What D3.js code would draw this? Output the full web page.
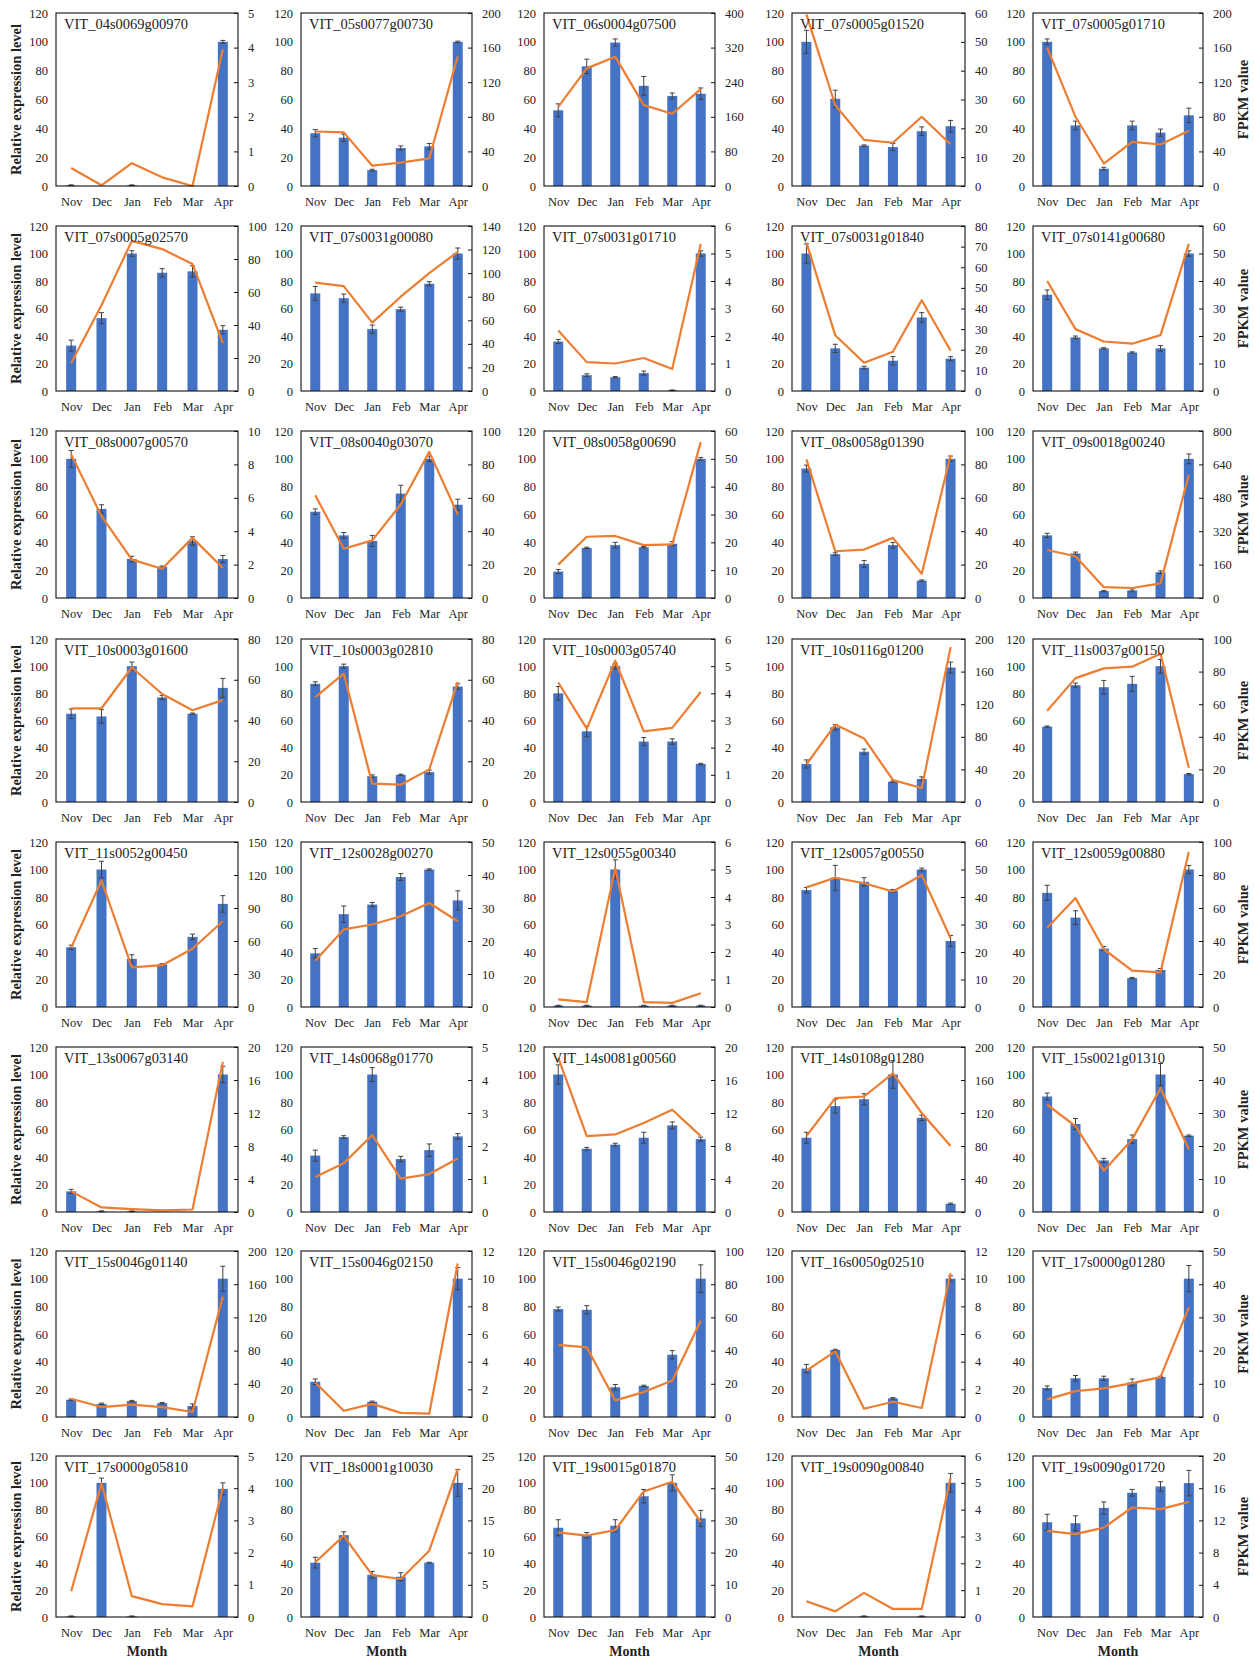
<!DOCTYPE html>
<html>
<head>
<meta charset="utf-8">
<script src="https://cdn.jsdelivr.net/npm/d3@7"></script>
<style>
  html, body { margin: 0; padding: 0; background: #fff; }
  svg { display: block; }
  text { font-family: "Liberation Serif", "Times New Roman", serif; fill: #222; }
</style>
</head>
<body>
<svg id="chart" width="1255" height="1658"></svg>
<script>
// Sampling months (x categories)
const months = ["Nov", "Dec", "Jan", "Feb", "Mar", "Apr"];

// Gene IDs, one per small panel (row by row)
const genes = [
  "VIT_04s0069g00970", "VIT_05s0077g00730", "VIT_06s0004g07500", "VIT_07s0005g01520", "VIT_07s0005g01710",
  "VIT_07s0005g02570", "VIT_07s0031g00080", "VIT_07s0031g01710", "VIT_07s0031g01840", "VIT_07s0141g00680",
  "VIT_08s0007g00570", "VIT_08s0040g03070", "VIT_08s0058g00690", "VIT_08s0058g01390", "VIT_09s0018g00240",
  "VIT_10s0003g01600", "VIT_10s0003g02810", "VIT_10s0003g05740", "VIT_10s0116g01200", "VIT_11s0037g00150",
  "VIT_11s0052g00450", "VIT_12s0028g00270", "VIT_12s0055g00340", "VIT_12s0057g00550", "VIT_12s0059g00880",
  "VIT_13s0067g03140", "VIT_14s0068g01770", "VIT_14s0081g00560", "VIT_14s0108g01280", "VIT_15s0021g01310",
  "VIT_15s0046g01140", "VIT_15s0046g02150", "VIT_15s0046g02190", "VIT_16s0050g02510", "VIT_17s0000g01280",
  "VIT_17s0000g05810", "VIT_18s0001g10030", "VIT_19s0015g01870", "VIT_19s0090g00840", "VIT_19s0090g01720"
];

// Relative expression level (qRT-PCR, bars), per gene
const relExpr = [
  [0.5, 0, 0.5, 0, 0, 100], [36.6, 33.5, 11, 26.3, 27.5, 100], [52.5, 83, 99.5, 69.5, 62.5, 64], [100, 60.5, 28, 27, 38, 41.5], [100, 42, 12, 42, 37, 49],
  [33, 53, 100, 86, 87, 44.5], [71, 67.5, 45, 59.5, 78, 100], [36, 11.5, 10, 13, 0.5, 100], [100, 31, 17, 22, 53.5, 23.5], [70, 39, 31, 28, 31, 100],
  [100, 64, 28, 22.5, 41, 28], [62, 45, 41, 75, 100, 67], [19, 36, 38, 36.5, 39, 100], [93, 31.5, 24.5, 38, 12.5, 100], [45, 32, 5, 5.5, 18.5, 100],
  [65, 63, 100, 77, 65, 84], [87, 100, 19, 20, 22, 85], [80, 52, 100, 44.5, 44.5, 28], [28, 55, 37, 15, 17, 99], [55.5, 86, 84.5, 87, 100, 20.5],
  [43.5, 100, 35, 31, 51, 75], [39, 67.5, 74.5, 94.5, 100, 77.5], [1, 1, 100, 1, 1, 1], [85, 94, 91, 84.5, 100, 48], [83, 65, 42.5, 21, 27, 100],
  [15, 0.5, 0.5, 0, 0, 100], [41, 54.5, 100, 38.5, 45, 55], [100, 46, 49, 54, 63, 53], [54, 77, 82, 100, 68.5, 6], [84, 64, 37.5, 53, 100, 55.5],
  [12.5, 9.5, 11.5, 10, 8, 100], [25.5, 0, 11, 0, 0, 100], [78, 77.5, 21.5, 22.5, 45, 100], [35, 48.5, 0, 13.5, 0, 100], [21, 28, 28, 25, 29, 100],
  [0.5, 100, 0.5, 0, 0, 95.5], [40.5, 61, 31.5, 30, 40.5, 100], [66.5, 61, 68, 90, 100, 73.5], [0, 0, 0.5, 0, 0.5, 100], [70.6, 69.9, 81.3, 92.6, 97.3, 99.8]
];

// Standard error of the relative expression level
const relErr = [
  [0.3, 0, 0.3, 0, 0, 1], [2.5, 2.5, 0.6, 1.5, 2, 0.5], [4.5, 5, 2.5, 6.5, 2, 4], [8, 6, 0.5, 2.5, 3, 4], [2, 3, 1, 3, 2.5, 5],
  [4, 4, 2, 3, 4, 3], [5, 3, 3, 1.5, 1.5, 4], [1.5, 1, 0.5, 1.5, 0.3, 2], [7, 3, 1, 3, 3.5, 1.5], [3.5, 1, 0.5, 0.5, 2, 2],
  [6, 3, 2, 0.5, 3, 2.5], [2, 2, 4, 6, 2, 4], [1.5, 0.5, 2, 0.5, 1.5, 1], [2.5, 1, 2.5, 2, 0.5, 2], [1.5, 1, 0.5, 1, 1, 3.5],
  [3.5, 5, 3, 1.5, 0.5, 7], [1.5, 1.5, 1, 0.5, 1.5, 2], [5, 4, 2, 3, 2, 0.5], [3, 2, 2, 0.5, 1.5, 4], [0.5, 1.5, 5, 5.5, 5, 0.5],
  [1.5, 6, 3, 0.5, 2, 6], [3.5, 6, 1.5, 2.5, 0.5, 7], [0.3, 0.3, 7, 0.3, 0.3, 0.3], [2, 9, 3, 1, 1, 4], [5.5, 5, 1.5, 0.5, 1, 3],
  [1.5, 0.3, 0.3, 0, 0, 6], [4, 1, 5, 2, 4.5, 2], [7, 1, 1, 4, 2.5, 1.5], [4, 5, 4, 10, 2, 0.5], [2.5, 4, 1.5, 3, 8, 0.5],
  [0.5, 0.5, 0.5, 0.5, 1.5, 9], [2, 0, 0.5, 0, 0, 8], [1.5, 3, 2, 0.5, 3, 10], [3, 0.5, 0, 0.5, 0, 2], [1.5, 2, 1.5, 2.5, 0.5, 9.5],
  [0.3, 3.5, 0.3, 0, 0, 4.5], [4, 2.5, 2.5, 3, 0.3, 10], [6, 2, 4.5, 5, 6, 6], [0, 0, 0.3, 0, 0.3, 7], [6, 5.5, 4.5, 2.5, 3.5, 9.5]
];

// FPKM values from RNA-seq (line, right axis)
const fpkm = [
  [0.52, 0.02, 0.66, 0.25, 0, 3.95], [63, 62, 23.5, 27, 32, 150], [183, 272, 299, 187, 167, 224], [59.5, 28, 16, 15, 24, 14.5], [160, 80, 26, 51, 48, 64],
  [17, 52, 91, 86, 77, 29], [92, 89, 58, 80, 100, 118], [2.2, 1.05, 1.0, 1.2, 0.8, 5.35], [72, 27, 13.7, 19, 44, 19.5], [40, 22.5, 18, 17.2, 20.3, 53.5],
  [8.6, 4.9, 2.3, 1.75, 3.6, 1.8], [61.5, 29.5, 34.5, 56, 87.5, 50], [12, 22, 22.3, 19, 19.3, 56], [83, 28, 29, 36, 14.5, 85.5], [230, 200, 52, 48, 70, 590],
  [46, 46, 66, 53, 45, 50], [51.5, 63, 9, 8.5, 16, 59], [4.4, 2.7, 5.2, 2.6, 2.73, 4.05], [46, 95, 78, 27, 17, 190], [56, 76, 82, 83, 91, 21],
  [54, 115, 36, 38, 53, 78], [14, 23.5, 25, 27.5, 31.5, 26], [0.28, 0.18, 5.05, 0.18, 0.15, 0.5], [43.5, 47, 45, 42, 48, 25], [48, 66, 35, 22, 21, 94],
  [2.5, 0.55, 0.35, 0.2, 0.3, 18.2], [1.06, 1.48, 2.33, 1.01, 1.15, 1.62], [18.7, 9.2, 9.4, 10.8, 12.4, 9.2], [92, 138, 140, 168, 120, 80], [32.5, 26, 12.5, 22, 37.5, 19],
  [22, 12, 15, 12, 6, 145], [2.5, 0.45, 0.95, 0.3, 0.25, 11.1], [43.5, 42, 10, 15, 22, 58], [3.35, 4.75, 0.6, 1.1, 0.65, 10.4], [5.3, 7.8, 8.6, 10.2, 12, 33],
  [0.8, 4.15, 0.65, 0.4, 0.33, 4.0], [8.5, 12.6, 6.5, 5.9, 10.3, 23], [26.3, 25.3, 27, 39, 42, 29.5], [0.59, 0.21, 0.9, 0.3, 0.3, 5.19], [10.7, 10.3, 11.1, 13.6, 13.4, 14.3]
];

// Right-axis (FPKM) maximum and tick step for each panel
const fpkmMax = [
  5, 200, 400, 60, 200,
  100, 140, 6, 80, 60,
  10, 100, 60, 100, 800,
  80, 80, 6, 200, 100,
  150, 50, 6, 60, 100,
  20, 5, 20, 200, 50,
  200, 12, 100, 12, 50,
  5, 25, 50, 6, 20
];
const fpkmStep = [
  1, 40, 80, 10, 40,
  20, 20, 1, 10, 10,
  2, 20, 10, 20, 160,
  20, 20, 1, 40, 20,
  30, 10, 1, 10, 20,
  4, 1, 4, 40, 10,
  40, 2, 20, 2, 10,
  1, 5, 10, 1, 4
];

// Left-axis ticks (relative expression level)
const relTicks = [0, 20, 40, 60, 80, 100, 120];

// ---- layout: plot frames for the 5 columns and 8 rows ----
const colX = [[56, 238], [301, 472], [544, 715], [792, 965], [1033, 1203]];
const rowY = [[13, 186], [226, 391], [431, 598], [639, 802], [842, 1007], [1047, 1212], [1251, 1417], [1456, 1617]];

const BAR = "#4472C4", LINE = "#ED7D31", ERR = "#404040";
const TICK_FONT = 12.5;
const svg = d3.select("#chart");

genes.forEach((gene, i) => {
  const r = Math.floor(i / 5), c = i % 5;
  const [x0, x1] = colX[c];
  const [y0, y1] = rowY[r];

  const x = d3.scalePoint().domain(months).range([x0, x1]).padding(0.5);
  const yL = d3.scaleLinear().domain([0, 120]).range([y1, y0]);
  const yR = d3.scaleLinear().domain([0, fpkmMax[i]]).range([y1, y0]);

  const g = svg.append("g").attr("class", "panel");
  const rows = months.map((m, k) => ({ m, v: relExpr[i][k], e: relErr[i][k], f: fpkm[i][k] }));

  // bars
  const bw = 10;
  g.selectAll("rect.bar").data(rows.filter(d => d.v > 0)).join("rect")
    .attr("class", "bar")
    .attr("x", d => x(d.m) - bw / 2)
    .attr("width", bw)
    .attr("y", d => yL(d.v))
    .attr("height", d => yL(0) - yL(d.v))
    .attr("fill", BAR);

  // error bars
  const eb = g.selectAll("g.err").data(rows.filter(d => d.e > 0)).join("g").attr("class", "err")
    .attr("stroke", ERR).attr("stroke-width", 1);
  eb.append("line")
    .attr("x1", d => x(d.m)).attr("x2", d => x(d.m))
    .attr("y1", d => yL(Math.max(0, d.v - d.e))).attr("y2", d => yL(d.v + d.e));
  eb.append("line")
    .attr("x1", d => x(d.m) - 2.5).attr("x2", d => x(d.m) + 2.5)
    .attr("y1", d => yL(d.v + d.e)).attr("y2", d => yL(d.v + d.e));
  eb.append("line")
    .attr("x1", d => x(d.m) - 2.5).attr("x2", d => x(d.m) + 2.5)
    .attr("y1", d => yL(Math.max(0, d.v - d.e))).attr("y2", d => yL(Math.max(0, d.v - d.e)));

  // FPKM line
  g.append("path").datum(rows)
    .attr("fill", "none").attr("stroke", LINE).attr("stroke-width", 2.2)
    .attr("stroke-linejoin", "round")
    .attr("d", d3.line().x(d => x(d.m)).y(d => yR(d.f)));

  // frame
  g.append("rect")
    .attr("x", x0).attr("y", y0).attr("width", x1 - x0).attr("height", y1 - y0)
    .attr("fill", "none").attr("stroke", "#111").attr("stroke-width", 1.1);

  // left axis labels
  const la = g.append("g").attr("transform", `translate(${x0},0)`)
    .call(d3.axisLeft(yL).tickValues(relTicks).tickSize(0).tickPadding(8));
  la.select(".domain").remove();

  // right axis with inward ticks
  const rTicks = d3.range(0, fpkmMax[i] + fpkmStep[i] / 2, fpkmStep[i]);
  const ra = g.append("g").attr("transform", `translate(${x1},0)`)
    .call(d3.axisRight(yR).tickValues(rTicks).tickSize(-4).tickPadding(10).tickFormat(d3.format("d")));
  ra.select(".domain").remove();
  ra.selectAll(".tick line").attr("stroke", "#111");

  // month labels
  const ba = g.append("g").attr("transform", `translate(0,${y1})`)
    .call(d3.axisBottom(x).tickSize(0).tickPadding(11));
  ba.select(".domain").remove();

  g.selectAll(".tick text").attr("font-family", "Liberation Serif").attr("font-size", TICK_FONT).attr("fill", "#222");

  // gene name
  g.append("text").attr("x", x0 + 8).attr("y", y0 + 16)
    .attr("font-size", 14.5).text(gene);

  // axis titles
  if (c === 0) {
    g.append("text")
      .attr("transform", `translate(16,${(y0 + y1) / 2}) rotate(-90)`)
      .attr("text-anchor", "middle").attr("dominant-baseline", "central")
      .attr("font-size", 14.5).attr("font-weight", "bold").attr("fill", "#111")
      .text("Relative expression level");
  }
  if (c === 4) {
    g.append("text")
      .attr("transform", `translate(1243,${(y0 + y1) / 2}) rotate(-90)`)
      .attr("text-anchor", "middle").attr("dominant-baseline", "central")
      .attr("font-size", 14.5).attr("font-weight", "bold").attr("fill", "#111")
      .text("FPKM value");
  }
  if (r === rowY.length - 1) {
    g.append("text")
      .attr("x", (x0 + x1) / 2).attr("y", y1 + 39)
      .attr("text-anchor", "middle")
      .attr("font-size", 14).attr("font-weight", "bold").attr("fill", "#111")
      .text("Month");
  }
});
</script>
</body>
</html>
